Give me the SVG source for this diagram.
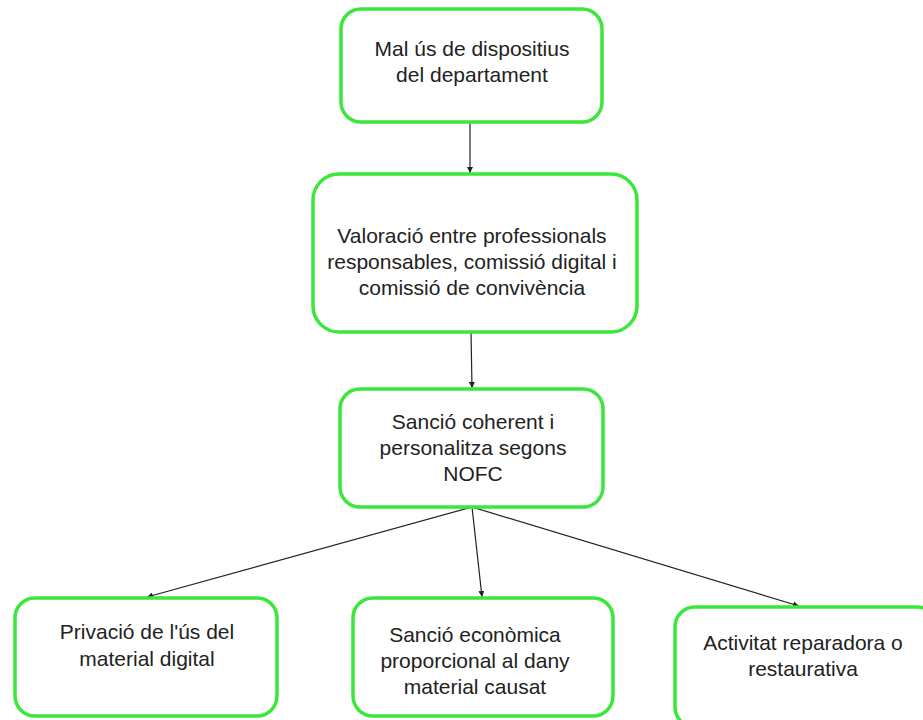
<svg xmlns="http://www.w3.org/2000/svg" width="923" height="720" viewBox="0 0 923 720">
<style>
.box{fill:#fff;stroke:#3ae83a;stroke-width:3.5}
.t{font-family:"Liberation Sans",Arial,sans-serif;font-size:21px;fill:#222;text-anchor:middle}
.c{stroke:#222;stroke-width:1.2;fill:none;marker-end:url(#ah)}
</style>
<defs>
<marker id="ah" viewBox="0 0 10 10" refX="10" refY="5" markerWidth="6" markerHeight="6" orient="auto" markerUnits="userSpaceOnUse">
<path d="M0,0 L10,5 L0,10 z" fill="#222"/>
</marker>
</defs>
<rect width="923" height="720" fill="#fff"/>
<g id="connectors">
<line class="c" x1="470" y1="122" x2="470" y2="173"/>
<line class="c" x1="471" y1="332" x2="472" y2="388"/>
<line class="c" x1="472" y1="507" x2="147" y2="597"/>
<line class="c" x1="472" y1="507" x2="482" y2="597"/>
<line class="c" x1="472" y1="507" x2="799" y2="606"/>
</g>
<g id="n1">
<rect class="box" x="341" y="9" width="261" height="113" rx="20"/>
<text class="t" x="472" y="56">Mal ús de dispositius</text>
<text class="t" x="472" y="82">del departament</text>
</g>
<g id="n2">
<rect class="box" x="313" y="174" width="324" height="158" rx="26"/>
<text class="t" x="472" y="243">Valoració entre professionals</text>
<text class="t" x="472" y="269">responsables, comissió digital i</text>
<text class="t" x="472" y="295">comissió de convivència</text>
</g>
<g id="n3">
<rect class="box" x="340" y="389" width="263" height="118" rx="20"/>
<text class="t" x="473" y="429">Sanció coherent i</text>
<text class="t" x="473" y="455">personalitza segons</text>
<text class="t" x="473" y="481">NOFC</text>
</g>
<g id="n4">
<rect class="box" x="15" y="598" width="262" height="118" rx="20"/>
<text class="t" x="147" y="639">Privació de l'ús del</text>
<text class="t" x="147" y="666">material digital</text>
</g>
<g id="n5">
<rect class="box" x="353" y="598" width="260" height="118" rx="20"/>
<text class="t" x="475" y="642">Sanció econòmica</text>
<text class="t" x="475" y="668">proporcional al dany</text>
<text class="t" x="475" y="694">material causat</text>
</g>
<g id="n6">
<rect class="box" x="675" y="607" width="262" height="120" rx="20"/>
<text class="t" x="803" y="650">Activitat reparadora o</text>
<text class="t" x="803" y="676">restaurativa</text>
</g>
</svg>
